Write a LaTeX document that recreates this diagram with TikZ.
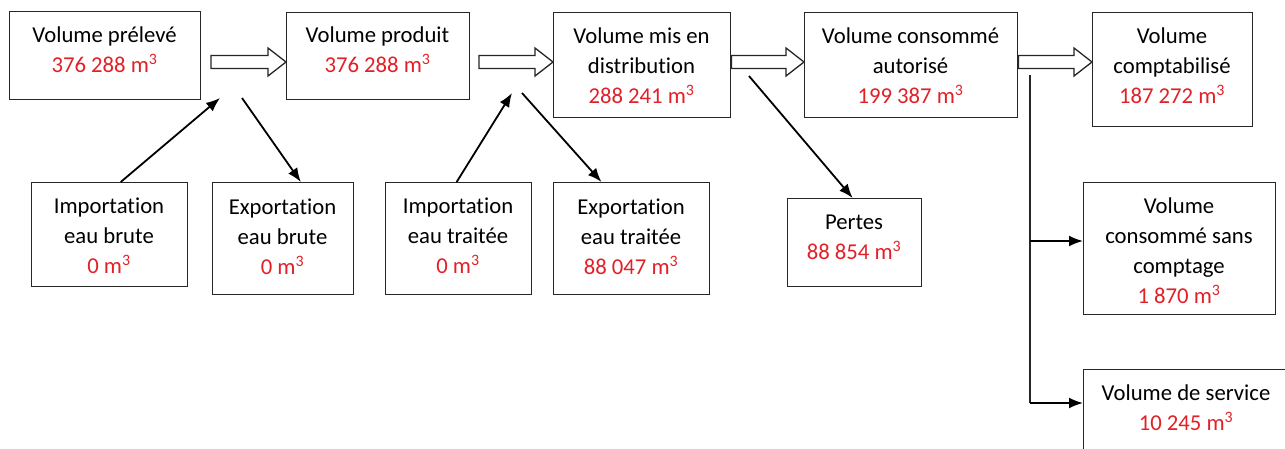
\documentclass[tikz,border=0pt]{standalone}
\usepackage{fontspec}
\setmainfont{Carlito}[Ligatures={NoCommon}]
\usetikzlibrary{calc,arrows.meta}
\definecolor{numred}{RGB}{226,32,40}
\newcommand\vol[1]{\textcolor{numred}{#1 m\textsuperscript{3}}}
\newcommand\hollowarr[2]{%
  \draw[hollow] let \p1=#1, \p2=#2 in
    (\x1,\y1+6.5pt) -- (\x2-18pt,\y1+6.5pt) -- (\x2-18pt,\y1+14pt) -- (\x2,\y1)
    -- (\x2-18pt,\y1-14pt) -- (\x2-18pt,\y1-6.5pt) -- (\x1,\y1-6.5pt) -- cycle;}
\begin{document}
\begin{tikzpicture}[x=1pt,y=-1pt,
  box/.style={draw=black!85, line width=1.4pt, anchor=north west, inner sep=0pt, fill=white},
  txt/.style={anchor=base, align=center, inner sep=0pt, font=\fontsize{22.7}{30}\selectfont},
  hollow/.style={draw=black!85, line width=1.3pt, fill=white, line join=miter},
  arr/.style={draw=black, line width=1.8pt, -{Latex[length=14pt,width=11pt]}},
  plain/.style={draw=black!85, line width=1.6pt}]
\clip (0,0) rectangle (1285,448);
\fill[white] (0,0) rectangle (1285,448);
% top row
\node[box, minimum width=191pt, minimum height=88pt] (prel) at (9,11) {};
\node[box, minimum width=183pt, minimum height=87pt] (prod) at (286,12) {};
\node[box, minimum width=177pt, minimum height=105pt] (dist) at (553,12) {};
\node[box, minimum width=213pt, minimum height=105pt] (auto) at (804,12) {};
\node[box, minimum width=160pt, minimum height=114pt] (compt) at (1092,12) {};
% lower row
\node[box, minimum width=156pt, minimum height=104pt] (impB) at (31,182) {};
\node[box, minimum width=141pt, minimum height=112pt] (expB) at (212,182) {};
\node[box, minimum width=146pt, minimum height=112pt] (impT) at (385,182) {};
\node[box, minimum width=156pt, minimum height=112pt] (expT) at (553,182) {};
\node[box, minimum width=134pt, minimum height=88pt] (pertes) at (787,198) {};
\node[box, minimum width=192pt, minimum height=132pt] (sansc) at (1083,182) {};
\node[box, minimum width=210pt, minimum height=100pt] (serv) at (1083,369) {};
% texts (anchored at the baseline of their last line)
\node[txt] (prelT) at (104.5,72) {Volume prélevé\\\vol{376 288}};
\node[txt] (prodT) at (377.5,72) {Volume produit\\\vol{376 288}};
\node[txt] (distT) at (641.5,103) {Volume mis en\\distribution\\\vol{288 241}};
\node[txt] (autoT) at (910.5,103) {Volume consommé\\autorisé\\\vol{199 387}};
\node[txt] (comptT) at (1172,103) {Volume\\comptabilisé\\\vol{187 272}};
\node[txt] (impBT) at (109,273) {Importation\\eau brute\\\vol{0}};
\node[txt] (expBT) at (282.5,274) {Exportation\\eau brute\\\vol{0}};
\node[txt] (impTT) at (458,273) {Importation\\eau traitée\\\vol{0}};
\node[txt] (expTT) at (631,274) {Exportation\\eau traitée\\\vol{88 047}};
\node[txt] (pertesT) at (854,259) {Pertes\\\vol{88 854}};
\node[txt] (sanscT) at (1179,303) {Volume\\consommé sans\\comptage\\\vol{1 870}};
\node[txt] (servT) at (1186,430) {Volume de service\\\vol{10 245}};
% hollow arrows
\coordinate (t1) at (211,62);
\coordinate (t2) at (479,62);
\hollowarr{(t1)}{($(prod.north west)+(0,50)$)}
\hollowarr{(t2)}{($(dist.north west)+(0,50)$)}
\hollowarr{($(dist.north east)+(0,50)$)}{($(auto.north west)+(0,50)$)}
\hollowarr{($(auto.north east)+(0,50)$)}{($(compt.north west)+(0,50)$)}
% diagonal arrows
\coordinate (j1) at (220,98);
\coordinate (j2) at (242,98);
\coordinate (j3) at (512,93);
\coordinate (j4) at (522,93);
\coordinate (j5) at (749,76);
\draw[arr] ($(impB.north west)!0.57!(impB.north east)$) -- (j1);
\draw[arr] (j2) -- ($(expB.north west)!0.624!(expB.north east)$);
\draw[arr] ($(impT.north west)!0.486!(impT.north east)$) -- (j3);
\draw[arr] (j4) -- ($(expT.north west)!0.308!(expT.north east)$);
\draw[arr] (j5) -- ($(pertes.north west)!0.485!(pertes.north east)$);
% branch line
\coordinate (v0) at (1030,75);
\coordinate (vA) at (1030,241);
\coordinate (vB) at (1030,403);
\draw[plain] (v0) -- (vB);
\draw[arr] (vA) -- (vA -| sansc.west);
\draw[arr] (vB) -- (vB -| serv.west);
\end{tikzpicture}
\end{document}
